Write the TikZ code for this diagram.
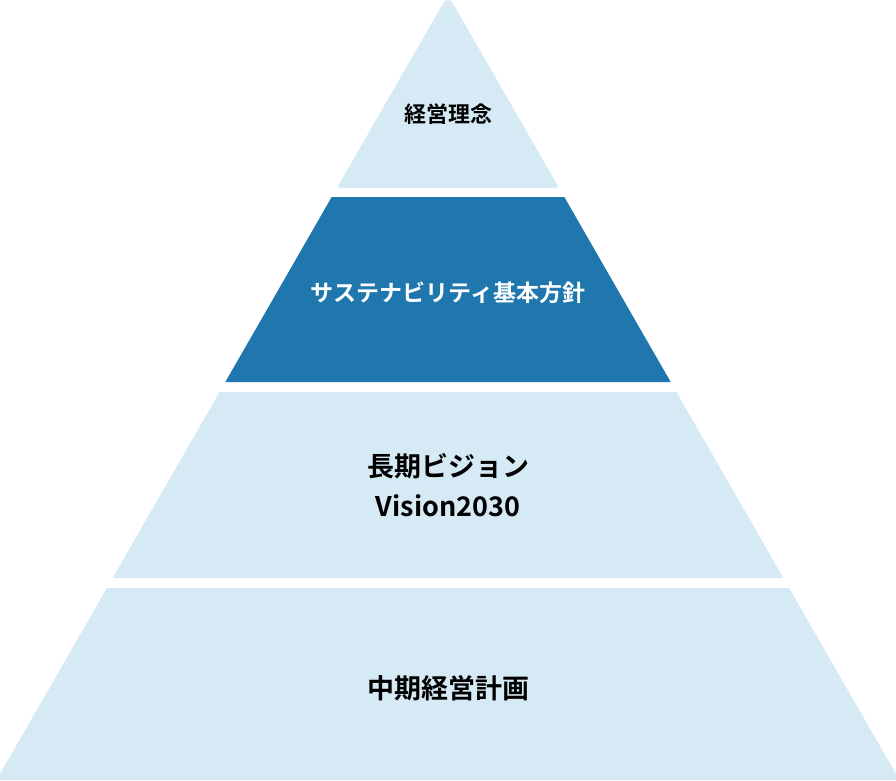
\documentclass[tikz,border=0pt]{standalone}
\usepackage{fontspec}
\newfontfamily\jp{Noto Sans CJK JP Bold}
\definecolor{lightb}{HTML}{D6EAF6}
\definecolor{darkb}{HTML}{1F77AD}
\begin{document}
\begin{tikzpicture}[x=1pt,y=-1pt,
  lbl/.style={font=\jp, text=black, align=center, inner sep=0pt}]
\useasboundingbox (0,0) rectangle (896,780);
\fill[lightb, rounded corners=3pt] (445,0) -- (451,0) -- (559.1,188) -- (336.9,188) -- cycle;
\fill[darkb] (331.7,197) -- (564.3,197) -- (670.7,382) -- (225.3,382) -- cycle;
\fill[lightb] (219.6,392) -- (676.4,392) -- (783.4,578) -- (112.6,578) -- cycle;
\fill[lightb] (106.9,588) -- (789.1,588) -- (899.5,780) -- (-3.5,780) -- cycle;
\node[lbl, font=\jp\fontsize{22}{26}\selectfont] (t1) at (448,114) {経営理念};
\node[lbl, font=\jp\fontsize{23}{28}\selectfont, text=white] (t2) at (448,293) {サステナビリティ基本方針};
\node[lbl, font=\jp\fontsize{27}{40}\selectfont] (t3) at (448,485) {長期ビジョン\\Vision2030};
\node[lbl, font=\jp\fontsize{27}{32}\selectfont] (t4) at (448,688) {中期経営計画};
\end{tikzpicture}
\end{document}
